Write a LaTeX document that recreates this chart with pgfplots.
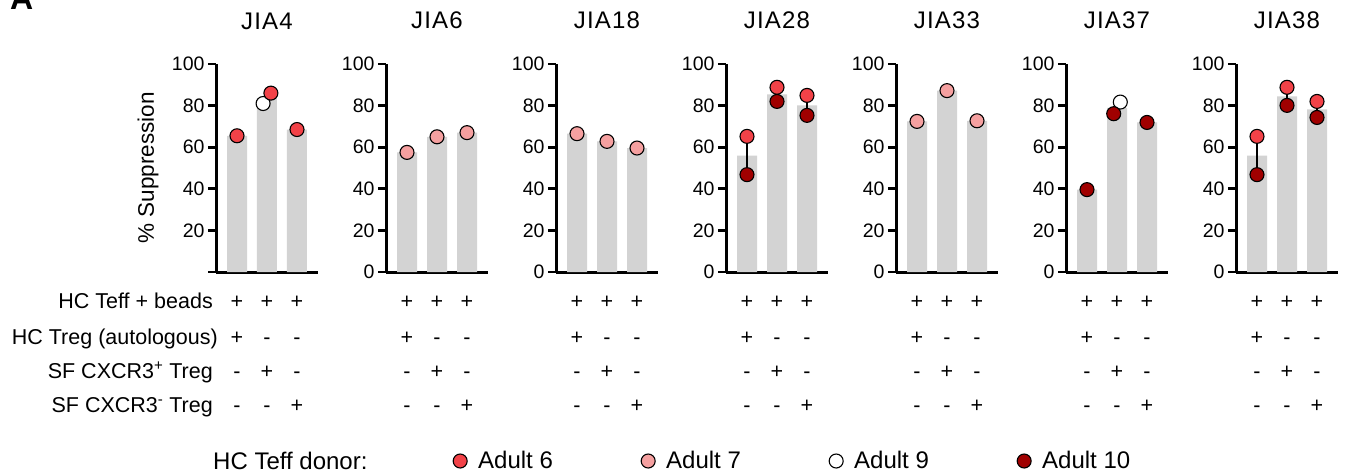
\documentclass[border=0pt]{standalone}
\usepackage{fontspec}
\setmainfont{Liberation Sans}
\newfontfamily\titlefont[LetterSpace=5]{Liberation Sans}
\usepackage{pgfplots}
\pgfplotsset{compat=1.18}
\definecolor{cA}{RGB}{242,66,72}
\definecolor{cB}{RGB}{245,160,160}
\definecolor{cC}{RGB}{255,255,255}
\definecolor{cD}{RGB}{160,0,0}
\definecolor{barg}{RGB}{211,211,211}
\newcommand\fs[1]{\fontsize{#1}{#1}\selectfont}
\pgfplotsset{
 panel/.style={scale only axis, width=102pt, height=208pt,
  xmin=-0.7, xmax=2.7, ymin=0, ymax=100,
  axis x line*=bottom, axis y line*=left,
  xtick=\empty, ytick={0,20,40,60,80,100},
  tick align=outside, major tick length=8pt,
  tick style={black, line width=2.8pt},
  axis line style={-, black, line width=3pt},
  x axis line style={-, black, line width=3pt},
  y axis line style={-, black, line width=3pt},
  yticklabel style={font=\fs{19.5}},
  /pgf/number format/assume math mode=true,
  clip=false,
  every axis title/.style={font=\titlefont\fs{24}, at={(0.5,1)}, anchor=base, yshift=35pt},
  anchor=south west},
 bars/.style={ybar, bar width=20pt, fill=barg, draw=none},
 dot/.style={only marks, mark=*, mark size=7pt, mark options={fill=#1, draw=black, line width=1.1pt},
   legend image code/.code={\draw[##1] plot coordinates {(7pt,0pt)};}},
 rng/.style={black, line width=2.8pt},
}
\begin{document}
\begin{tikzpicture}
\useasboundingbox (0pt,0pt) rectangle (1345pt,-476pt);
\node[anchor=base west, font=\fs{32}\bfseries, inner sep=0pt] at (10pt,-10pt) {A};

% JIA4
\begin{axis}[panel, at={(216pt,-272pt)}, title={JIA4}, yticklabels={,20,40,60,80,100},
  ylabel={\% Suppression}, ylabel style={font=\fs{22.5}, at={(axis description cs:-0.667,0.5)}, anchor=center},
  legend style={draw=none, fill=none, inner sep=0pt, at={(2.3235,-0.9087)}, anchor=west,
    font=\fs{24}, nodes={inner sep=0pt}, /tikz/every odd column/.append style={column sep=11pt}},
  legend columns=4, legend cell align=left]
\addplot[bars, forget plot] coordinates {(0,65.5) (1,83.5) (2,68.5)};
\addplot[rng, forget plot] coordinates {(1,81) (1,86)};
\addplot[dot=cC, forget plot] coordinates {(0.87,81)};
\addplot[dot=cA, forget plot] coordinates {(0,65.5) (1.13,86) (2,68.5)};
\addlegendimage{dot=cA}\addlegendentry{\makebox[163pt][l]{Adult 6}}
\addlegendimage{dot=cB}\addlegendentry{\makebox[163pt][l]{Adult 7}}
\addlegendimage{dot=cC}\addlegendentry{\makebox[163pt][l]{Adult 9}}
\addlegendimage{dot=cD}\addlegendentry{Adult 10}
\end{axis}

% JIA6
\begin{axis}[panel, at={(386pt,-272pt)}, title={JIA6}]
\addplot[bars] coordinates {(0,57.5) (1,65) (2,67)};
\addplot[dot=cB] coordinates {(0,57.5) (1,65) (2,67)};
\end{axis}

% JIA18
\begin{axis}[panel, at={(556pt,-272pt)}, title={JIA18}]
\addplot[bars] coordinates {(0,66.5) (1,62.8) (2,59.6)};
\addplot[dot=cB] coordinates {(0,66.5) (1,62.8) (2,59.6)};
\end{axis}

% JIA28
\begin{axis}[panel, at={(726pt,-272pt)}, title={JIA28}]
\addplot[bars] coordinates {(0,56) (1,85.4) (2,80.1)};
\addplot[rng] coordinates {(0,46.8) (0,65.2)};
\addplot[rng] coordinates {(1,82) (1,88.8)};
\addplot[rng] coordinates {(2,75.3) (2,84.9)};
\addplot[dot=cA] coordinates {(0,65.2) (1,88.8) (2,84.9)};
\addplot[dot=cD] coordinates {(0,46.8) (1,82) (2,75.3)};
\end{axis}

% JIA33
\begin{axis}[panel, at={(896pt,-272pt)}, title={JIA33}]
\addplot[bars] coordinates {(0,72.4) (1,87.2) (2,72.7)};
\addplot[dot=cB] coordinates {(0,72.4) (1,87.2) (2,72.7)};
\end{axis}

% JIA37
\begin{axis}[panel, at={(1066pt,-272pt)}, title={JIA37}]
\addplot[bars] coordinates {(0,39.6) (1,78.9) (2,71.9)};
\addplot[rng] coordinates {(1,76.1) (1,81.7)};
\addplot[dot=cC] coordinates {(1.11,81.7)};
\addplot[dot=cD] coordinates {(0,39.6) (0.89,76.1) (2,71.9)};
\end{axis}

% JIA38
\begin{axis}[panel, at={(1236pt,-272pt)}, title={JIA38}]
\addplot[bars] coordinates {(0,56) (1,84.45) (2,78.15)};
\addplot[rng] coordinates {(0,46.8) (0,65.2)};
\addplot[rng] coordinates {(1,80.1) (1,88.8)};
\addplot[rng] coordinates {(2,74.3) (2,82)};
\addplot[dot=cA] coordinates {(0,65.2) (1,88.8) (2,82)};
\addplot[dot=cD] coordinates {(0,46.8) (1,80.1) (2,74.3)};
\end{axis}

% condition table
\begin{scope}[every node/.style={font=\fs{21.5}, inner sep=0pt}]
\node[anchor=base east] at (213pt,-308pt) {HC Teff + beads};
\node[anchor=base east] at (218pt,-344pt) {HC Treg (autologous)};
\node[anchor=base east] at (213pt,-378pt) {SF CXCR3\textsuperscript{+} Treg};
\node[anchor=base east] at (213pt,-412pt) {SF CXCR3\textsuperscript{-} Treg};
\foreach \i in {0,...,6}{
  \foreach \j in {0,1,2}{
    \pgfmathsetmacro\xx{237+170*\i+30*\j}
    \node[anchor=base] at (\xx pt,-308pt) {+};
    \node[anchor=base] at (\xx pt,-344pt) {\ifnum\j=0 +\else -\fi};
    \node[anchor=base] at (\xx pt,-378pt) {\ifnum\j=1 +\else -\fi};
    \node[anchor=base] at (\xx pt,-412pt) {\ifnum\j=2 +\else -\fi};
  }
}
\node[anchor=base west, font=\fs{24}] at (213pt,-469pt) {HC Teff donor:};
\end{scope}
\end{tikzpicture}
\end{document}
